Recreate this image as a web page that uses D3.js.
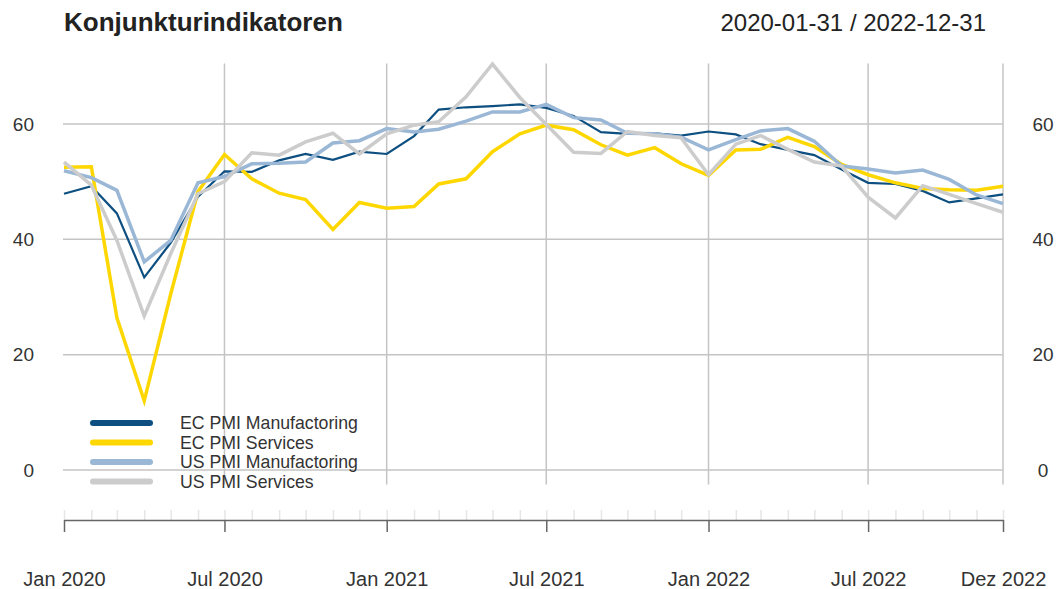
<!DOCTYPE html>
<meta charset="utf-8">
<head>
  <meta charset="UTF-8">
</head>
<style>
body {
  margin: 0;
  background: #fff;
  font-family: "Liberation Sans", Arial, sans-serif;
}
.grid line {
  stroke: #c4c4c4;
  stroke-width: 1.5;
}
.axis text {
  fill: #333;
}
.series {
  fill: none;
  stroke-linejoin: miter;
}
</style>
<body>
<script src="https://cdn.jsdelivr.net/npm/d3@7"></script>
<script type="text/javascript">

// --------------------------- data --------------------------
var months = [
  "2020-01","2020-02","2020-03","2020-04","2020-05","2020-06",
  "2020-07","2020-08","2020-09","2020-10","2020-11","2020-12",
  "2021-01","2021-02","2021-03","2021-04","2021-05","2021-06",
  "2021-07","2021-08","2021-09","2021-10","2021-11","2021-12",
  "2022-01","2022-02","2022-03","2022-04","2022-05","2022-06",
  "2022-07","2022-08","2022-09","2022-10","2022-11","2022-12"
];

var ecManufacturing = [
  47.9, 49.2, 44.5, 33.4, 39.4, 47.4, 51.8, 51.7, 53.7, 54.8, 53.8, 55.2,
  54.8, 57.9, 62.5, 62.9, 63.1, 63.4, 62.8, 61.4, 58.6, 58.3, 58.4, 58.0,
  58.7, 58.2, 56.5, 55.5, 54.6, 52.1, 49.8, 49.6, 48.4, 46.4, 47.1, 47.8
];
var ecServices = [
  52.5, 52.6, 26.4, 12.0, 30.5, 48.3, 54.7, 50.5, 48.0, 46.9, 41.7, 46.4,
  45.4, 45.7, 49.6, 50.5, 55.2, 58.3, 59.8, 59.0, 56.4, 54.6, 55.9, 53.1,
  51.1, 55.5, 55.6, 57.7, 56.1, 53.0, 51.2, 49.8, 48.8, 48.6, 48.5, 49.2
];
var usManufacturing = [
  51.9, 50.7, 48.5, 36.1, 39.8, 49.8, 50.9, 53.1, 53.2, 53.4, 56.7, 57.1,
  59.2, 58.6, 59.1, 60.5, 62.1, 62.1, 63.4, 61.1, 60.7, 58.4, 58.3, 57.7,
  55.5, 57.3, 58.8, 59.2, 57.0, 52.7, 52.2, 51.5, 52.0, 50.4, 47.7, 46.2
];
var usServices = [
  53.4, 49.4, 39.8, 26.7, 37.5, 47.9, 50.0, 55.0, 54.6, 56.9, 58.4, 54.8,
  58.3, 59.8, 60.4, 64.7, 70.4, 64.6, 59.9, 55.1, 54.9, 58.7, 58.0, 57.6,
  51.2, 56.5, 58.0, 55.6, 53.4, 52.7, 47.3, 43.7, 49.3, 47.8, 46.2, 44.7
];

var seriesNames = ["EC PMI Manufactoring", "EC PMI Services", "US PMI Manufactoring", "US PMI Services"];
var seriesColors = ["#0d4f80", "#ffd700", "#9ab7d6", "#cccccc"];
var seriesWidths = [2.2, 3.5, 3.5, 3.5];

var yTicks = [0, 20, 40, 60];
var xTickDates = ["2020-01", "2020-07", "2021-01", "2021-07", "2022-01", "2022-07", "2022-12"];
var monthNamesDe = ["Jan", "Feb", "Mär", "Apr", "Mai", "Jun", "Jul", "Aug", "Sep", "Okt", "Nov", "Dez"];

var title = "Konjunkturindikatoren";
var dateRange = "2020-01-31 / 2022-12-31";

// --------------------------- setup --------------------------
var width = 1062, height = 589;
var parseMonth = d3.timeParse("%Y-%m");
var dates = months.map(parseMonth);

var x = d3.scaleTime()
    .domain(d3.extent(dates))
    .range([64, 1003]);

var y = d3.scaleLinear()
    .domain([0, 60])
    .range([470, 124]);

var yTop = 70.5, yBottom = -2.5;

var svg = d3.select("body").append("svg")
    .attr("width", width)
    .attr("height", height);

// title + date range
svg.append("text")
    .attr("x", 64)
    .attr("y", 31)
    .style("font-size", "26px")
    .style("font-weight", "bold")
    .style("fill", "#222")
    .text(title);

svg.append("text")
    .attr("x", 986)
    .attr("y", 31)
    .attr("text-anchor", "end")
    .style("font-size", "24px")
    .style("fill", "#222")
    .text(dateRange);

// grid
var grid = svg.append("g").attr("class", "grid");

grid.selectAll(".hgrid")
    .data(yTicks)
  .enter().append("line")
    .attr("x1", x.range()[0] - 1)
    .attr("x2", x.range()[1])
    .attr("y1", function(d) { return y(d); })
    .attr("y2", function(d) { return y(d); });

grid.selectAll(".vgrid")
    .data(xTickDates.slice(1).map(parseMonth))
  .enter().append("line")
    .attr("x1", function(d) { return x(d); })
    .attr("x2", function(d) { return x(d); })
    .attr("y1", y(yTop))
    .attr("y2", y(yBottom));

// y axes
var yLeft = svg.append("g")
    .attr("class", "axis")
    .attr("transform", "translate(36,0)")
    .call(d3.axisLeft(y).tickValues(yTicks).tickSize(0).tickPadding(2));
yLeft.select(".domain").remove();
yLeft.selectAll("text").style("font-size", "19px").style("font-family", "Liberation Sans, Arial, sans-serif");

var yRight = svg.append("g")
    .attr("class", "axis")
    .attr("transform", "translate(1043,0)")
    .call(d3.axisRight(y).tickValues(yTicks).tickSize(0).tickPadding(0));
yRight.select(".domain").remove();
yRight.selectAll("text")
    .attr("text-anchor", "middle")
    .style("font-size", "19px")
    .style("font-family", "Liberation Sans, Arial, sans-serif");

// x axis: minor monthly ticks above the line
var xMinor = svg.append("g")
    .attr("transform", "translate(0,520)")
    .call(d3.axisBottom(x).tickValues(dates).tickSize(-10).tickFormat(""));
xMinor.select(".domain").remove();
xMinor.selectAll("line").attr("stroke", "#e6e6e6").attr("stroke-width", 1.5);

var xAxis = svg.append("g")
    .attr("class", "axis")
    .attr("transform", "translate(0,520)")
    .call(d3.axisBottom(x)
      .tickValues(xTickDates.map(parseMonth))
      .tickSize(12)
      .tickSizeOuter(0)
      .tickPadding(40)
      .tickFormat(function(d) { return monthNamesDe[d.getMonth()] + " " + d.getFullYear(); }));
xAxis.select(".domain").attr("stroke", "#666").attr("stroke-width", 1.5);
xAxis.selectAll("line").attr("stroke", "#666").attr("stroke-width", 1.5);
xAxis.selectAll("text").style("font-size", "20px").style("font-family", "Liberation Sans, Arial, sans-serif");

// series lines
var allSeries = [ecManufacturing, ecServices, usManufacturing, usServices];

var line = d3.line()
    .x(function(d, i) { return x(dates[i]); })
    .y(function(d) { return y(d); });

svg.selectAll(".series")
    .data(allSeries)
  .enter().append("path")
    .attr("class", "series")
    .attr("d", line)
    .attr("stroke", function(d, i) { return seriesColors[i]; })
    .attr("stroke-width", function(d, i) { return seriesWidths[i]; });

// legend
var legend = svg.append("g")
    .attr("transform", "translate(90,423)");

var item = legend.selectAll(".legend-item")
    .data(seriesNames)
  .enter().append("g")
    .attr("transform", function(d, i) { return "translate(0," + (i * 19.5) + ")"; });

item.append("line")
    .attr("x1", 3)
    .attr("x2", 60)
    .attr("stroke", function(d, i) { return seriesColors[i]; })
    .attr("stroke-width", 6)
    .attr("stroke-linecap", "round");

item.append("text")
    .attr("x", 90)
    .attr("dy", "0.36em")
    .style("font-size", "17.7px")
    .style("fill", "#333")
    .text(function(d) { return d; });

</script>
